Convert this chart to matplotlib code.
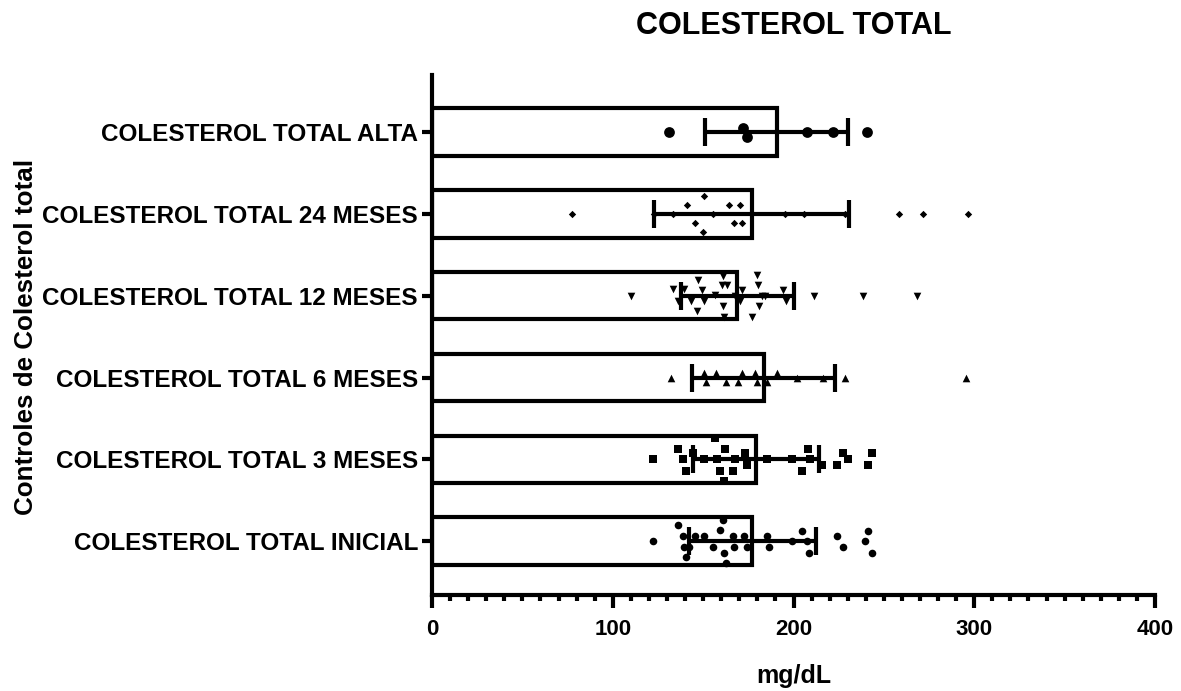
import matplotlib
matplotlib.use("Agg")
import matplotlib.pyplot as plt
from matplotlib.ticker import MultipleLocator
import numpy as np

plt.rcParams['font.family'] = ['Liberation Sans', 'DejaVu Sans']
plt.rcParams['font.weight'] = 'bold'

categories = ["COLESTEROL TOTAL INICIAL", "COLESTEROL TOTAL 3 MESES",
              "COLESTEROL TOTAL 6 MESES", "COLESTEROL TOTAL 12 MESES",
              "COLESTEROL TOTAL 24 MESES", "COLESTEROL TOTAL ALTA"]
means = [177.2, 179.2, 183.6, 168.9, 176.8, 190.6]
sds = [35.0, 35.0, 39.6, 31.3, 54.1, 39.5]

inicial_vals = [122.4, 136.2, 139.0, 139.6, 140.5, 142.0, 145.5, 150.4, 155.6, 159.3,
                161.1, 161.5, 162.6, 166.6, 167.2, 172.6, 174.1, 185.5, 186.6, 198.9,
                204.5, 207.6, 208.5, 224.2, 227.5, 239.5, 241.3, 243.2]
inicial_jit = [0, 0.196, 0.061, -0.07, -0.2, -0.07, 0.061, 0.061, -0.07, 0.134,
               0.257, -0.143, -0.265, 0.061, -0.07, 0.061, -0.07, 0.061, -0.07, 0,
               0.126, 0, -0.143, 0.061, -0.07, 0, 0.126, -0.143]

m3_vals = [122.4, 136.2, 139.0, 140.5, 144.5, 150.4, 156.5, 157.5, 159.3, 161.5,
           162.1, 166.6, 167.6, 173.1, 174.1, 185.5, 198.9, 204.5, 208.1, 209.1,
           215.5, 224.2, 227.5, 230.3, 241.3, 243.2]
m3_jit = [0, 0.122, 0, -0.14, 0.073, 0, 0.257, 0, -0.14, -0.26,
          0.122, -0.14, 0, 0.073, -0.07, 0, 0, -0.14, 0.122, 0,
          -0.07, -0.07, 0.073, 0, -0.07, 0.073]

m6_vals = [132.0, 150.4, 151.5, 157.1, 162.6, 169.4, 171.6, 178.6, 179.6, 185.5,
           190.6, 201.7, 216.4, 228.4, 295.4]
m6_jit = [0, 0.053, -0.053, 0.053, -0.053, -0.053, 0.053, 0.053, -0.053, -0.053,
          0.053, 0, 0, 0, 0]

m12_vals = [110.1, 133.1, 136.2, 139.5, 143.3, 146.4, 147.3, 149.5, 150.4, 156.5,
            160.2, 160.8, 161.1, 161.5, 163.3, 167.6, 170.4, 171.6, 177.2, 179.9,
            180.5, 181.0, 182.4, 184.2, 194.3, 195.8, 211.4, 238.2, 268.4]
m12_jit = [0, 0.08, -0.07, 0.08, -0.07, -0.19, 0.196, 0.065, -0.07, 0.01,
           0.134, -0.13, 0.245, -0.26, 0.134, 0, -0.07, 0.065, -0.26, 0.257,
           0.134, -0.13, 0, 0, 0.065, -0.07, 0, 0, 0]

m24_vals = [77.3, 122.8, 133.5, 141.2, 145.5, 150.4, 149.7, 155.3, 164.4, 167.2,
            170.4, 171.6, 195.2, 205.8, 228.4, 258.5, 271.4, 296.3]
m24_jit = [0, 0, 0, 0.114, -0.11, 0.224, -0.224, 0, 0.114, -0.11,
           0.114, -0.11, 0, 0, 0, 0, 0, 0]

alta_vals = [131.3, 171.8, 174.4, 207.2, 221.6, 240.4]
alta_jit = [0, 0.05, -0.053, 0, 0, 0]

series_vals = [inicial_vals, m3_vals, m6_vals, m12_vals, m24_vals, alta_vals]
series_jit = [inicial_jit, m3_jit, m6_jit, m12_jit, m24_jit, alta_jit]
markers = ['o', 's', '^', 'v', 'D', 'o']
sizes = [30, 28, 30, 30, 14, 60]

fig = plt.figure(figsize=(11.81, 6.91), dpi=100)
ax = fig.add_axes([0.3658, 0.1389, 0.6122, 0.7526])

ypos = np.arange(len(categories))
ax.barh(ypos, means, height=0.58, color='white', edgecolor='black', linewidth=3, zorder=1)

for i, (vals, jit) in enumerate(zip(series_vals, series_jit)):
    ax.scatter(vals, ypos[i] + np.array(jit), marker=markers[i], s=sizes[i],
               color='black', linewidths=0, zorder=3)

ax.errorbar(means, ypos, xerr=sds, fmt='none', ecolor='black', elinewidth=3,
            capsize=10, capthick=3, zorder=4)

ax.set_xlim(0, 400)
ax.set_ylim(-0.66, 5.70)
ax.set_yticks(ypos)
ax.set_yticklabels(categories, fontsize=17.5, fontweight='bold')
ax.xaxis.set_major_locator(MultipleLocator(100))
ax.xaxis.set_minor_locator(MultipleLocator(10))
for lbl in ax.get_xticklabels():
    lbl.set_fontweight('bold')

for s in ['top', 'right']:
    ax.spines[s].set_visible(False)
for s in ['left', 'bottom']:
    ax.spines[s].set_linewidth(3)

ax.tick_params(axis='y', length=7, width=3, pad=3)
ax.tick_params(axis='x', which='major', length=9.5, width=3, pad=8, labelsize=16)
ax.tick_params(axis='x', which='minor', length=4.5, width=3)

xc = 0.3658 + 0.6122 / 2
fig.text(xc, 0.962, "COLESTEROL TOTAL", ha='center', va='center', fontsize=22, fontweight='bold')
fig.text(xc, 0.022, "mg/dL", ha='center', va='center', fontsize=18, fontweight='bold')
fig.text(0.022, 0.513, "Controles de Colesterol total", ha='center', va='center',
         rotation=90, fontsize=18.7, fontweight='bold')

fig.savefig("out.png", dpi=100)
